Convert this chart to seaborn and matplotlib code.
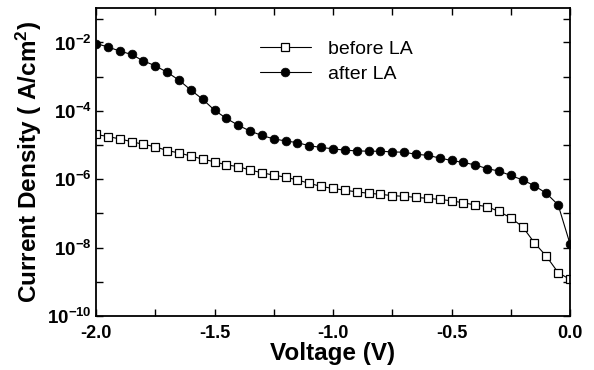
import numpy as np
import pandas as pd
import matplotlib
matplotlib.use("Agg")
import matplotlib.pyplot as plt
import matplotlib.ticker as mticker
import seaborn as sns

voltage = [round(-2.0 + 0.05 * i, 2) for i in range(41)]
log_after = [-2.03, -2.13, -2.25, -2.35, -2.54, -2.68, -2.87, -3.10, -3.39, -3.66,
             -3.98, -4.22, -4.42, -4.59, -4.72, -4.82, -4.88, -4.93, -5.02, -5.07,
             -5.11, -5.15, -5.17, -5.18, -5.18, -5.20, -5.21, -5.27, -5.30, -5.38,
             -5.45, -5.51, -5.58, -5.69, -5.76, -5.89, -6.02, -6.19, -6.41, -6.75,
             -7.89]
log_before = [-4.69, -4.75, -4.82, -4.90, -4.98, -5.05, -5.16, -5.23, -5.32, -5.41,
              -5.49, -5.58, -5.63, -5.73, -5.81, -5.88, -5.94, -6.02, -6.12, -6.21,
              -6.27, -6.32, -6.37, -6.41, -6.44, -6.48, -6.50, -6.53, -6.56, -6.59,
              -6.63, -6.69, -6.75, -6.80, -6.94, -7.13, -7.39, -7.86, -8.25, -8.73,
              -8.93]
x_ticks = [-2.0, -1.5, -1.0, -0.5, 0.0]
x_ticklabels = ["-2.0", "-1.5", "-1.0", "-0.5", "0.0"]
y_exponents = [-10, -8, -6, -4, -2]

sns.set_style("ticks")
plt.rcParams['font.family'] = ['Liberation Sans', 'DejaVu Sans']
plt.rcParams['mathtext.fontset'] = 'custom'
plt.rcParams['mathtext.rm'] = 'Liberation Sans'
plt.rcParams['mathtext.bf'] = 'Liberation Sans:bold'
plt.rcParams['mathtext.it'] = 'Liberation Sans:italic'
plt.rcParams['axes.unicode_minus'] = False
for key in ['text.color', 'axes.labelcolor', 'xtick.color', 'ytick.color',
            'axes.edgecolor', 'xtick.labelcolor', 'ytick.labelcolor']:
    plt.rcParams[key] = 'black'

df_before = pd.DataFrame({"V": voltage, "J": [10 ** v for v in log_before]})
df_after = pd.DataFrame({"V": voltage, "J": [10 ** v for v in log_after]})

fig = plt.figure(figsize=(5.94, 3.70), dpi=100)
ax = fig.add_axes([96 / 594, 1 - 316 / 370, (570 - 96) / 594, (316 - 8.3) / 370])

sns.lineplot(data=df_before, x="V", y="J", ax=ax, color="black", linewidth=0.8,
             marker="s", markersize=5.5, markerfacecolor="white",
             markeredgecolor="black", markeredgewidth=0.9, label="before LA")
sns.lineplot(data=df_after, x="V", y="J", ax=ax, color="black", linewidth=0.8,
             marker="o", markersize=6.3, markerfacecolor="black",
             markeredgecolor="black", markeredgewidth=0.5, label="after LA")

ax.set_yscale("log")
ax.set_xlim(-2.0, 0.0)
ax.set_ylim(1e-10, 1e-1)

ax.set_xticks(x_ticks)
ax.set_xticklabels(x_ticklabels, fontsize=13, fontweight="bold")
ax.xaxis.set_minor_locator(mticker.FixedLocator([-1.75, -1.25, -0.75, -0.25]))

ax.yaxis.set_major_locator(mticker.FixedLocator([10.0 ** e for e in y_exponents]))
ax.set_yticklabels([r"$\mathbf{10^{%d}}$" % e for e in y_exponents], fontsize=13.5)
ax.yaxis.set_minor_locator(mticker.FixedLocator([1e-9, 1e-7, 1e-5, 1e-3, 5e-2]))
ax.yaxis.set_minor_formatter(mticker.NullFormatter())

ax.tick_params(axis="both", which="both", direction="in", width=1.0)
ax.tick_params(axis="both", which="both", length=5)
ax.tick_params(axis="x", which="both", top=True, pad=6.5)
ax.tick_params(axis="y", which="both", right=True, pad=3)

for sp in ax.spines.values():
    sp.set_linewidth(1.3)
    sp.set_visible(True)
    sp.set_color("black")

ax.set_xlabel("Voltage (V)", fontsize=17.5, fontweight="bold", labelpad=0)
ax.set_ylabel(r"Current Density ( A/cm$^{\mathbf{2}}$)", fontsize=17.5,
              fontweight="bold", labelpad=2)

leg = ax.legend(loc="upper left", bbox_to_anchor=(0.33, 0.92), frameon=False,
                fontsize=14, handlelength=2.6, handletextpad=0.9,
                labelspacing=0.35, borderaxespad=0)

fig.savefig("out.png", dpi=100)
